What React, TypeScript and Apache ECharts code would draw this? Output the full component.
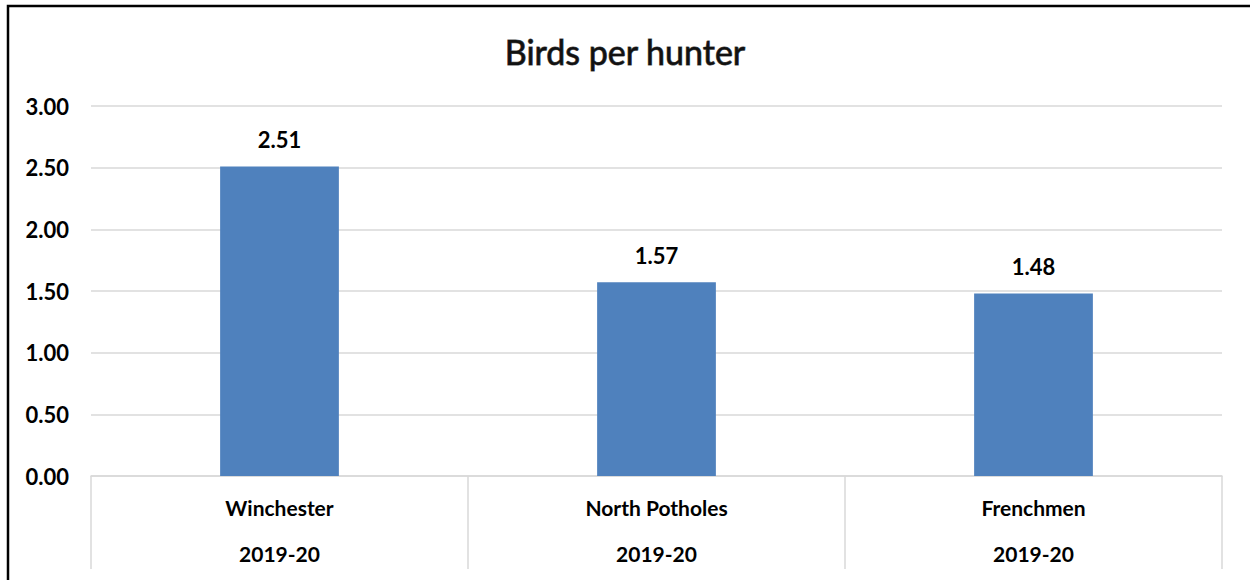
import React, { useEffect, useRef } from "react";
import * as echarts from "echarts";

// Hunting areas, season and average birds taken per hunter
const areas = ["Winchester", "North Potholes", "Frenchmen"];
const seasons = ["2019-20", "2019-20", "2019-20"];
const birdsPerHunter = [2.51, 1.57, 1.48];
const yTicks = { min: 0, max: 3, interval: 0.5 };

const FONT = "Lato, 'Open Sans', sans-serif";
const GRID_GRAY = "#d9d9d9";

export default function App() {
  const ref = useRef<HTMLDivElement>(null);

  useEffect(() => {
    if (!ref.current) return;
    const chart = echarts.init(ref.current, null, { renderer: "svg" });
    chart.setOption({
      animation: false,
      backgroundColor: "#ffffff",
      title: {
        text: "Birds per hunter",
        left: "center",
        top: 29,
        textStyle: {
          fontFamily: FONT,
          fontSize: 34,
          fontWeight: "normal",
          color: "#111",
          textBorderColor: "#555",
          textBorderWidth: 1,
        },
      },
      graphic: [
        {
          type: "rect",
          shape: { x: 8, y: 6, width: 1300, height: 640 },
          style: { fill: "none", stroke: "#000", lineWidth: 2.5 },
          silent: true,
        },
      ],
      grid: { left: 91, right: 28, top: 106, bottom: 104 },
      xAxis: {
        type: "category",
        data: areas.map((a, i) => `${a}|${seasons[i]}`),
        boundaryGap: true,
        axisLine: { show: true, lineStyle: { color: GRID_GRAY, width: 1.5 } },
        axisTick: {
          show: true,
          interval: 0,
          length: 93,
          lineStyle: { color: GRID_GRAY, width: 1.5 },
        },
        axisLabel: {
          interval: 0,
          margin: 8,
          formatter: (v: string) => {
            const [a, s] = v.split("|");
            return `{a|${a}}\n{b|${s}}`;
          },
          rich: {
            a: { fontFamily: FONT, fontWeight: "bold", fontSize: 21, color: "#000", lineHeight: 46 },
            b: { fontFamily: FONT, fontWeight: "bold", fontSize: 21, color: "#000", lineHeight: 46 },
          },
        },
      },
      yAxis: {
        type: "value",
        min: yTicks.min,
        max: yTicks.max,
        interval: yTicks.interval,
        axisLine: { show: false },
        axisTick: { show: false },
        splitLine: { lineStyle: { color: GRID_GRAY, width: 1.5 } },
        axisLabel: {
          margin: 22,
          formatter: (v: number) => v.toFixed(2),
          fontFamily: FONT,
          fontWeight: "bold",
          fontSize: 22,
          color: "#000",
        },
      },
      series: [
        {
          type: "bar",
          data: birdsPerHunter,
          barWidth: "31.5%",
          itemStyle: { color: "#4f81bd" },
          label: {
            show: true,
            position: "top",
            distance: 16,
            formatter: (p: any) => Number(p.value).toFixed(2),
            fontFamily: FONT,
            fontWeight: "bold",
            fontSize: 22,
            color: "#000",
          },
        },
      ],
    });
    return () => chart.dispose();
  }, []);

  return (
    <div
      ref={ref}
      style={{ position: "fixed", left: 0, top: 0, width: 1250, height: 580 }}
    />
  );
}
